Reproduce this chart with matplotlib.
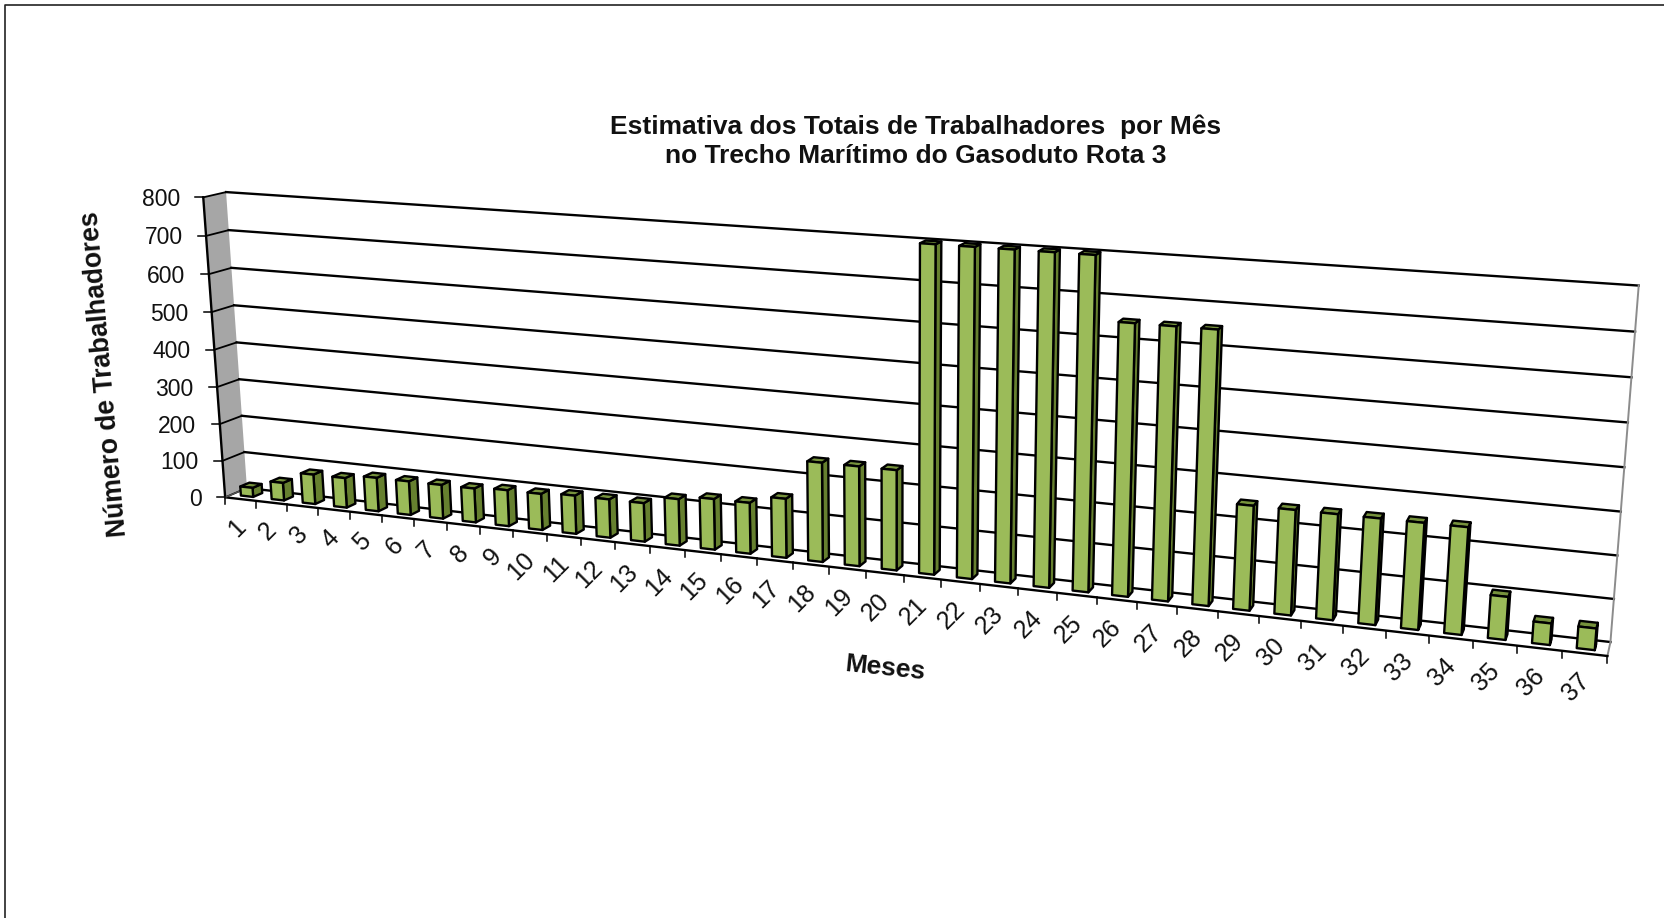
#!/usr/bin/env python3
"""Workers per month on the offshore stretch of the pipeline, as a 3D column chart"""

import numpy as np
import matplotlib
matplotlib.use("Agg")
import matplotlib.pyplot as plt
from matplotlib.patches import Polygon

plt.rcParams['font.family'] = ['Liberation Sans', 'DejaVu Sans']

months = list(range(1, 38))
workers = [25, 48, 80, 80, 90, 90, 90, 90, 95, 95, 100, 100, 100, 120, 130, 130, 150,
           250, 250, 250,
           800, 800, 800, 800, 800,
           650, 650, 650,
           250, 250, 250, 250, 250, 250,
           100, 50, 50]
value_ticks = [0, 100, 200, 300, 400, 500, 600, 700, 800]

title_text = "Estimativa dos Totais de Trabalhadores  por Mês\nno Trecho Marítimo do Gasoduto Rota 3"
xlabel_text = "Meses"
ylabel_text = "Número de Trabalhadores"

# box reference points: (month slot, value, depth) -> pixel, used to solve the camera
CAMERA_POINTS = [
    (0, 0, 0, 225.7, 498.3), (0, 800, 0, 203.3, 197.7), (0, 400, 0, 215.0, 349.3),
    (0, 0, 1, 247.3, 488.3), (0, 800, 1, 225.7, 191.7), (0, 400, 1, 236.7, 342.3),
    (37, 0, 1, 1610.7, 641.7), (37, 800, 1, 1639.0, 285.7), (37, 400, 1, 1623.7, 467.7),
    (37, 0, 0, 1607.3, 656.7), (28, 0, 0, 1218.3, 610.5), (17, 0, 0, 793.3, 563.3),
    (10, 0, 0, 546.0, 531.7), (1, 0, 0, 255.0, 501.7),
]


def solve_camera(points):
    # plain DLT with the inputs scaled to 0..1
    rows = []
    for m, v, d, px, py in points:
        q = [m / 37, v / 800, d, 1]
        u, w = px / 1000, py / 1000
        rows.append(q + [0, 0, 0, 0] + [-u * c for c in q])
        rows.append([0, 0, 0, 0] + q + [-w * c for c in q])
    _, _, vt = np.linalg.svd(np.array(rows))
    return vt[-1].reshape(3, 4)


CAM = solve_camera(CAMERA_POINTS)


def project(m, v, d):
    h = CAM @ np.array([m / 37, v / 800, d, 1])
    return h[0] / h[2] * 1000, h[1] / h[2] * 1000


def draw_bar(ax, slot, value):
    x0, x1 = slot + 0.3, slot + 0.7
    z0, z1 = 0.3, 0.72
    front = [project(x0, 0, z0), project(x1, 0, z0), project(x1, value, z0), project(x0, value, z0)]
    side = [project(x1, 0, z0), project(x1, 0, z1), project(x1, value, z1), project(x1, value, z0)]
    top = [project(x0, value, z0), project(x1, value, z0), project(x1, value, z1), project(x0, value, z1)]
    for face, color in ((side, '#66802f'), (top, '#76923c'), (front, '#9bbb59')):
        ax.add_patch(Polygon(face, closed=True, facecolor=color, edgecolor='black',
                             linewidth=1.7, joinstyle='round', zorder=4))


fig = plt.figure(figsize=(16.65, 9.18), dpi=100)
ax = fig.add_axes([0, 0, 1, 1])
ax.set_xlim(0, 1665)
ax.set_ylim(918, 0)
ax.axis('off')

# frame around the slide
ax.plot([5.5, 5.5, 1665], [918, 4.8, 4.8], color='#222222', lw=1.2, zorder=1)

# side wall
wall = [project(0, 0, 0), project(0, 0, 1), project(0, 800, 1), project(0, 800, 0)]
ax.add_patch(Polygon(wall, closed=True, facecolor='#a6a6a6', edgecolor='none', zorder=1))

# gridlines on the back wall and up the side wall
for v in value_ticks:
    a, b, c = project(0, v, 0), project(0, v, 1), project(37, v, 1)
    ax.plot([b[0], c[0]], [b[1], c[1]], color='black', lw=1.7, zorder=2)
    ax.plot([a[0], b[0]], [a[1], b[1]], color='black', lw=1.3, zorder=2)
    ax.plot([a[0] - 8, a[0]], [a[1], a[1]], color='black', lw=1.1, zorder=2)
    ax.text(a[0] - 23.5, a[1] + 2, str(v), ha='right', va='center', fontsize=16.5, color='#111111')

# right edge of the back wall and floor
pts = [project(37, 800, 1), project(37, 0, 1), project(37, 0, 0)]
ax.plot([p[0] for p in pts], [p[1] for p in pts], color='#8c8c8c', lw=1.4, zorder=2)

# front edges
p0, p1, p2 = project(0, 800, 0), project(0, 0, 0), project(37, 0, 0)
ax.plot([p0[0], p1[0], p2[0]], [p0[1], p1[1], p2[1]], color='black', lw=1.7, zorder=3)
p3 = project(0, 0, 1)
ax.plot([p1[0], p3[0]], [p1[1], p3[1]], color='#555555', lw=1.0, zorder=3)

for slot in range(len(months) + 1):
    tx, ty = project(slot, 0, 0)
    ax.plot([tx, tx], [ty, ty + 7], color='black', lw=1.1, zorder=3)

for slot, (m, value) in enumerate(zip(months, workers)):
    draw_bar(ax, slot, value)
    lx, ly = project(slot + 0.5, 0, 0)
    ax.text(lx + 1, ly + 24, str(m), rotation=45, rotation_mode='anchor',
            ha='right', va='center', fontsize=18, color='#111111')

ax.text(862 * 1665 / 1568, 141.5, title_text, ha='center', va='center', fontsize=19,
        fontweight='bold', linespacing=1.26, color='#111111')
ax.text(885, 668, xlabel_text, ha='center', va='center', rotation=-6, fontsize=19,
        fontweight='bold', color='#111111')
ax.text(105, 374, ylabel_text, ha='center', va='center', rotation=95, fontsize=19.1,
        fontweight='bold', color='#111111')

fig.savefig('out.png', dpi=100)
plt.close(fig)
